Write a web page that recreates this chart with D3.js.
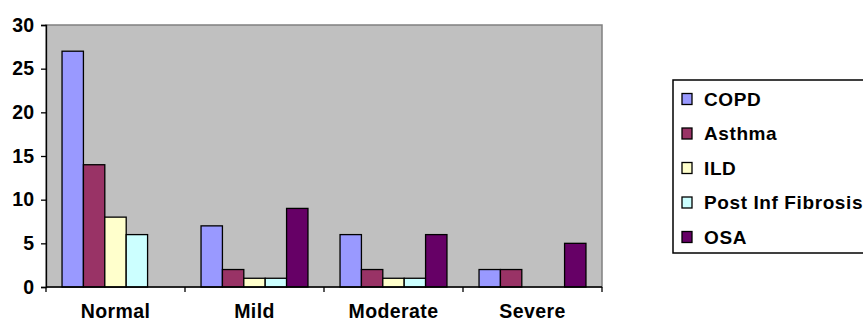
<!DOCTYPE html>
<html>
<head>
<meta charset="utf-8">
<script src="https://cdn.jsdelivr.net/npm/d3@7"></script>
<style>
  html, body { margin: 0; padding: 0; background: #fff; }
  text { font-family: "Liberation Sans", Arial, sans-serif; font-weight: bold; fill: #000; }
</style>
</head>
<body>
<svg id="chart" width="863" height="322"></svg>
<script>
// Severity groups and the diagnosis series counted in each
const categories = ["Normal", "Mild", "Moderate", "Severe"];
const seriesNames = ["COPD", "Asthma", "ILD", "Post Inf Fibrosis", "OSA"];
const copd = [27, 7, 6, 2];
const asthma = [14, 2, 2, 2];
const ild = [8, 1, 1, 0];
const postInfFibrosis = [6, 1, 1, 0];
const osa = [0, 9, 6, 5];
const yTicks = [0, 5, 10, 15, 20, 25, 30];

const seriesValues = [copd, asthma, ild, postInfFibrosis, osa];
const colors = ["#9999FF", "#993366", "#FFFFCC", "#CCFFFF", "#660066"];

const svg = d3.select("#chart");
const plot = { left: 46, top: 25, right: 602, bottom: 287 };

const x0 = d3.scaleBand().domain(categories).range([plot.left, plot.right]).paddingInner(0).paddingOuter(0);
const x1 = d3.scaleBand().domain(seriesNames).range([0, x0.bandwidth()]).paddingInner(0).paddingOuter(0.75);
const y = d3.scaleLinear().domain([0, 30]).range([plot.bottom, plot.top]);

// Plot area
svg.append("rect")
  .attr("x", plot.left).attr("y", plot.top)
  .attr("width", plot.right - plot.left).attr("height", plot.bottom - plot.top)
  .attr("fill", "#C0C0C0").attr("stroke", "#808080").attr("stroke-width", 1.5);

// Bars
const rows = [];
categories.forEach((c, ci) => {
  seriesNames.forEach((s, si) => {
    rows.push({ cat: c, series: s, si, value: seriesValues[si][ci] });
  });
});

svg.append("g").selectAll("rect")
  .data(rows.filter(d => d.value > 0))
  .join("rect")
  .attr("x", d => x0(d.cat) + x1(d.series))
  .attr("y", d => y(d.value))
  .attr("width", x1.bandwidth())
  .attr("height", d => y(0) - y(d.value))
  .attr("fill", d => colors[d.si])
  .attr("stroke", "#000").attr("stroke-width", 1.3);

// Y axis
const yAxis = svg.append("g")
  .attr("transform", `translate(${plot.left},0)`)
  .call(d3.axisLeft(y).tickValues(yTicks).tickSize(5).tickPadding(7));
yAxis.selectAll("path, line").attr("stroke", "#000").attr("stroke-width", 1.3);
yAxis.selectAll("text").style("font-size", "19.5px")
  .style("font-family", "'Liberation Sans', Arial, sans-serif").style("font-weight", "bold");

// X axis with tick marks at group boundaries
const xAxis = svg.append("g").attr("transform", `translate(0,${plot.bottom})`);
xAxis.append("line")
  .attr("x1", plot.left).attr("x2", plot.right)
  .attr("stroke", "#000").attr("stroke-width", 1.3);
const boundaries = categories.map(c => x0(c)).concat([plot.right]);
xAxis.selectAll("line.tick").data(boundaries).join("line")
  .attr("class", "tick")
  .attr("x1", d => d).attr("x2", d => d)
  .attr("y1", 0).attr("y2", 5)
  .attr("stroke", "#000").attr("stroke-width", 1.3);
xAxis.selectAll("text").data(categories).join("text")
  .attr("x", d => x0(d) + x0.bandwidth() / 2)
  .attr("y", 31)
  .attr("text-anchor", "middle")
  .style("font-size", "19.5px")
  .style("letter-spacing", "0.4px")
  .text(d => d);

// Legend
const legend = svg.append("g");
legend.append("rect")
  .attr("x", 673).attr("y", 80).attr("width", 200).attr("height", 173)
  .attr("fill", "#fff").attr("stroke", "#000").attr("stroke-width", 1.5);
const items = legend.selectAll("g.item").data(seriesNames).join("g")
  .attr("class", "item")
  .attr("transform", (d, i) => `translate(0,${99 + i * 34.5})`);
items.append("rect")
  .attr("x", 682).attr("y", -5.5).attr("width", 10).attr("height", 11)
  .attr("fill", (d, i) => colors[i]).attr("stroke", "#000").attr("stroke-width", 1.3);
items.append("text")
  .attr("x", 704).attr("y", 0).attr("dy", "0.36em")
  .style("font-size", "19px")
  .style("letter-spacing", "0.6px")
  .text(d => d);
</script>
</body>
</html>
